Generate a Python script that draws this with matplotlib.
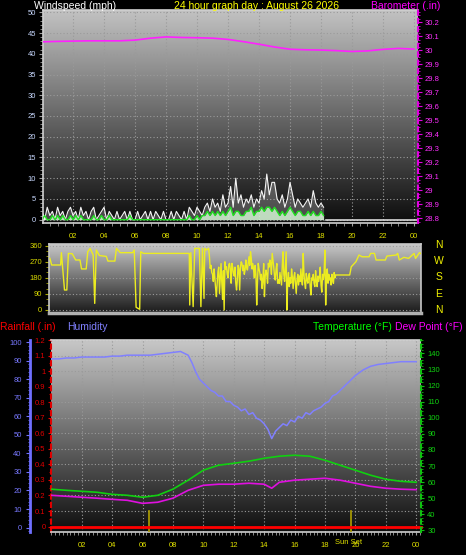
import numpy as np
import matplotlib
matplotlib.use("Agg")
import matplotlib.pyplot as plt
from matplotlib.colors import LinearSegmentedColormap
from matplotlib.ticker import MultipleLocator, FuncFormatter

# ---------------- data ----------------
title = "24 hour graph day : August 26 2026"
xtick_hours = [2, 4, 6, 8, 10, 12, 14, 16, 18, 20, 22, 24]
xtick_labels = ["02", "04", "06", "08", "10", "12", "14", "16", "18", "20", "22", "00"]

baro_hours = list(range(25))
baro_in = [30.059, 30.062, 30.064, 30.066, 30.066, 30.066, 30.071, 30.085, 30.094,
           30.090, 30.088, 30.085, 30.076, 30.060, 30.042, 30.022, 30.006, 30.002,
           30.000, 29.996, 29.990, 29.994, 30.005, 30.012, 30.007]

# wind readings every 10 minutes from 00:00 to 18:20
gust_mph = [2, 0, 3, 1, 2, 0,  3, 1, 2, 0, 2, 3,  1, 2, 0, 3, 1, 2,  0, 2, 3, 0, 1, 2,
            3, 0, 2, 1, 0, 2,  0, 1, 2, 0, 2, 0,  0, 2, 0, 1, 2, 0,  2, 0, 2, 1, 0, 2,
            0, 0, 2, 0, 2, 1,  0, 2, 0, 3, 2, 1,  3, 2, 1, 3, 4, 2,  5, 3, 4, 2, 6, 3,
            4, 8, 3, 10, 4, 6,  3, 5, 4, 6, 3, 5,  4, 7, 5, 11, 6, 9,  9, 5, 4, 6, 3, 5,
            9, 6, 3, 5, 4, 3,  4, 5, 3, 7, 4, 3,  4, 3]
avg_mph = [0, 1, 0, 0, 1, 0,  1, 0, 1, 0, 0, 1,  0, 1, 0, 1, 0, 0,  0, 0, 1, 0, 0, 1,
           0, 0, 1, 0, 0, 0,  0, 0, 0, 0, 1, 0,  0, 0, 0, 0, 0, 0,  0, 0, 0, 0, 0, 0,
           0, 0, 0, 0, 0, 0,  0, 0, 0, 1, 0, 0,  1, 0, 1, 1, 2, 1,  2, 1, 2, 1, 2, 1,
           2, 3, 1, 2, 2, 1,  1, 2, 2, 3, 1, 2,  2, 3, 2, 3, 3, 2,  3, 2, 1, 2, 1, 2,
           3, 2, 1, 2, 2, 1,  1, 2, 1, 2, 1, 1,  2, 1]
wind_hours = [i / 6 for i in range(len(gust_mph))]
calm_hours = [18.33, 24.26]
calm_mph = [0, 0]

# wind direction: sparse readings early, every 3 minutes 10:18-18:30, sparse late
dir_early_hours = [0.06, 0.17, 0.75, 0.8, 1.0, 1.15, 1.25, 1.5, 1.72, 2.0, 2.1, 2.4, 2.5,
                   2.65, 2.85, 2.95, 3.05, 3.25, 3.7, 3.8, 4.25, 4.35, 4.6, 5.4, 5.5, 5.62,
                   5.85, 5.92, 6.1, 9.05, 9.08, 9.15, 9.3, 9.4, 9.7, 9.8, 9.9, 10.0, 10.05,
                   10.15]
dir_early_deg = [289, 252, 252, 321, 112, 112, 317, 315, 280, 280, 230, 230, 326, 345, 308,
                 37, 336, 305, 300, 274, 274, 345, 321, 321, 336, 15, 4, 326, 317, 317, 28,
                 321, 19, 345, 345, 19, 345, 65, 345, 336]
dir_dense_deg = [345, 300, 233, 250, 210, 200, 160, 230, 180, 120,
                 75, 150, 214, 240, 93, 180, 260, 150, 60, 220,
                 0, 270, 230, 242, 200, 180, 255, 261, 230, 150,
                 261, 240, 205, 190, 240, 150, 112, 170, 250, 230,
                 112, 242, 270, 261, 220, 250, 200, 224, 280, 240,
                 224, 260, 298, 250, 326, 290, 230, 260, 224, 180,
                 250, 200, 28, 160, 261, 230, 210, 168, 200, 120,
                 168, 260, 75, 190, 224, 200, 150, 261, 240, 280,
                 261, 200, 317, 280, 240, 190, 168, 230, 260, 150,
                 168, 149, 210, 177, 140, 250, 326, 200, 160, 240,
                 326, 0, 168, 210, 131, 180, 150, 230, 186, 120,
                 186, 210, 150, 93, 168, 200, 140, 190, 160, 230,
                 168, 140, 317, 200, 149, 120, 205, 170, 150, 190,
                 205, 130, 84, 180, 168, 200, 150, 131, 220, 160,
                 131, 190, 160, 186, 240, 140, 100, 200, 170, 210,
                 336, 28, 186, 230, 150, 200, 168, 180, 140, 200,
                 168, 149, 210, 180, 196]
dir_dense_hours = [10.3 + 0.05 * i for i in range(len(dir_dense_deg))]
dir_late_hours = [19.4, 19.5, 19.8, 20.0, 20.2, 20.65, 20.75, 21.0, 21.1, 21.7, 21.8, 22.4,
                  22.5, 22.6, 22.9, 23.2, 23.55, 23.65, 23.9, 24.0]
dir_late_deg = [196, 242, 270, 308, 298, 298, 317, 317, 280, 280, 302, 308, 317, 280, 295,
                289, 317, 289, 321, 315]
compass = ["N", "W", "S", "E", "N"]

hum_hours = ([0.5 * i for i in range(18)] + [9 + 0.25 * i for i in range(41)]
             + [19.5 + 0.5 * i for i in range(10)])
humidity = [91, 91, 91.5, 91.5, 92, 92, 92, 92, 92.5, 92.5, 93, 93, 93, 93, 93.5, 94, 94.5, 95,
            93, 89, 84, 80, 78, 76, 74, 73, 71, 71, 68, 68, 66, 65, 63, 64, 61, 62, 59, 58,
            56, 53, 48, 52, 54, 56, 55, 58, 57, 60, 59, 62, 61, 63, 64, 65, 67, 68, 71, 72, 74,
            78, 82, 85, 87, 88, 88.5, 89, 89.5, 89.5, 89.5]

temp_hours = list(range(25))
temperature = [55.6, 54.9, 54.3, 53.7, 52.4, 51.8, 50.6, 51.8, 55.6, 61.2, 67.4, 70.5, 71.7,
               73.0, 74.8, 76.1, 76.7, 76.1, 73.6, 70.5, 67.4, 64.3, 61.8, 60.5, 59.9]
dew_hours = [0, 1, 2, 3, 4, 5, 6, 7, 8, 9, 10, 11, 12, 13, 14, 14.5, 15, 16, 17, 18, 19, 20,
             21, 22, 23, 24]
dewpoint = [51.8, 51.2, 50.6, 50.0, 49.3, 48.7, 46.8, 47.5, 50.0, 54.9, 58.0, 58.7, 58.7,
            59.3, 58.7, 56.2, 59.9, 61.2, 61.8, 62.4, 61.2, 59.3, 57.4, 56.2, 55.6, 55.3]
rain_hours = [0, 24.32]
rainfall = [0, 0]
sunrise_h = 6.41
sunset_h = 19.72

# ---------------- figure ----------------
W, H = 466, 555
fig = plt.figure(figsize=(W / 100, H / 100), dpi=100, facecolor="black")
plt.rcParams["font.family"] = ["Liberation Sans", "DejaVu Sans"]


def rect(l, t, r, b):
    return [l / W, 1 - b / H, (r - l) / W, (b - t) / H]


def background(r, top, bottom):
    bg = fig.add_axes(r)
    g = np.linspace(0, 1, 256).reshape(-1, 1)
    cm = LinearSegmentedColormap.from_list("g", [top, bottom])
    bg.imshow(g, aspect="auto", cmap=cm, extent=[0, 1, 0, 1], origin="upper")
    bg.set_axis_off()
    return bg


def overlay(r):
    a = fig.add_axes(r)
    a.set_facecolor("none")
    return a


grid_kw = dict(color="#9a9a9a", linestyle=(0, (1, 2)), linewidth=0.8)
tick_fs = 5.5

# ---- top panel: wind speed + barometer ----
r1 = rect(43, 10, 418, 223)
background(r1, "#c2c2c2", "#0c0c0c")
ax1 = overlay(r1)
ax1.set_xlim(0.06, 24.26)
ax1.set_ylim(-0.8, 50.55)
ax1.fill_between(wind_hours, 0, gust_mph, color="#b8b8b8", alpha=0.35, lw=0, zorder=2)
ax1.fill_between(wind_hours, 0, avg_mph, color="#d4f4d4", alpha=0.85, lw=0, zorder=2)
ax1.plot(wind_hours, gust_mph, color="#f4f4f4", lw=0.8, zorder=3)
ax1.plot(wind_hours, avg_mph, color="#20e020", lw=1.0, zorder=4)
ax1.plot(calm_hours, calm_mph, color="#d8d8d8", lw=1.2, zorder=3)
ax1.yaxis.set_major_locator(MultipleLocator(5))
ax1.yaxis.set_minor_locator(MultipleLocator(1))
ax1.set_xticks(xtick_hours)
ax1.set_xticklabels(xtick_labels)
ax1.xaxis.set_minor_locator(MultipleLocator(0.5))
ax1.grid(True, **grid_kw)
ax1.tick_params(axis="y", which="both", colors="#a0a0a0", labelcolor="#c8d8ff",
                labelsize=tick_fs, length=3, pad=2)
ax1.tick_params(axis="y", which="minor", length=2)
ax1.tick_params(axis="x", which="both", colors="#a0a0a0", labelcolor="#e0e000",
                labelsize=tick_fs, length=2, pad=5)
for s in ax1.spines.values():
    s.set_color("#d0d0d0")
    s.set_linewidth(1.2)
ax1.spines["right"].set_visible(False)

ax1b = overlay(r1)
ax1b.set_xlim(ax1.get_xlim())
ax1b.set_ylim(28.766, 30.286)
ax1b.plot(baro_hours, baro_in, color="#ff20ff", lw=1.2, zorder=5)
ax1b.yaxis.tick_right()
ax1b.set_xticks([])
ax1b.yaxis.set_major_locator(MultipleLocator(0.1))
ax1b.yaxis.set_minor_locator(MultipleLocator(0.025))
ax1b.yaxis.set_major_formatter(FuncFormatter(lambda v, p: f"{v:.1f}".rstrip("0").rstrip(".")))
ax1b.tick_params(axis="y", which="both", colors="#e000e0", labelcolor="#ff30ff",
                 labelsize=tick_fs, length=3, pad=1.5)
ax1b.tick_params(axis="y", which="minor", length=1.5)
for k in ["left", "top", "bottom"]:
    ax1b.spines[k].set_visible(False)
ax1b.spines["right"].set_color("#e000e0")
ax1b.spines["right"].set_linestyle((0, (2, 2)))
ax1b.spines["right"].set_linewidth(1.5)

# ---- middle panel: wind direction ----
r2 = rect(49, 244, 421, 313)
background(r2, "#c8c8c8", "#1a1a1a")
ax2 = overlay(r2)
ax2.set_xlim(0, 24)
ax2.set_ylim(-16.8, 369.5)
ax2.plot(dir_early_hours + dir_dense_hours + dir_late_hours,
         dir_early_deg + dir_dense_deg + dir_late_deg, color="#ecec20", lw=1.0, zorder=4)
ax2.set_yticks([0, 90, 180, 270, 360])
ax2.yaxis.set_minor_locator(MultipleLocator(30))
ax2.set_xticks([])
ax2.grid(True, axis="y", **grid_kw)
ax2.tick_params(axis="y", which="both", colors="#a8a800", labelcolor="#d8d800",
                labelsize=tick_fs, length=3, pad=2)
ax2.tick_params(axis="y", which="minor", length=2)
for s in ax2.spines.values():
    s.set_color("#c8c8c8")
    s.set_linewidth(1.2)
ax2.spines["bottom"].set_linewidth(2.5)
ax2.spines["bottom"].set_color("#b0b0b0")
for i, c in enumerate(compass):
    fig.text(439 / W, 1 - (245 + i * 16.2) / H, c, color="#f0f000", fontsize=7.5,
             ha="center", va="center")

# ---- bottom panel: rain, humidity, temperature, dew point ----
r3 = rect(51, 340, 421, 532)
background(r3, "#c8c8c8", "#0e0e0e")
ax3 = overlay(r3)
ax3.set_xlim(-0.02, 24.32)
ax3.set_ylim(-0.035, 1.2005)
ax3.yaxis.set_major_locator(MultipleLocator(0.1))
ax3.yaxis.set_minor_locator(MultipleLocator(0.05))
ax3.yaxis.set_major_formatter(FuncFormatter(lambda v, p: f"{v:.1f}".rstrip("0").rstrip(".")))
ax3.set_xticks(xtick_hours)
ax3.set_xticklabels(xtick_labels)
ax3.xaxis.set_minor_locator(MultipleLocator(0.25))
ax3.grid(True, **grid_kw)
ax3.tick_params(axis="y", which="both", colors="#e00000", labelcolor="#e00000",
                labelsize=tick_fs, length=2.5, pad=1.5)
ax3.tick_params(axis="y", which="minor", length=1.5)
ax3.tick_params(axis="x", which="both", colors="#a0a0a0", labelcolor="#e0e000",
                labelsize=tick_fs, length=2, pad=5)
for s in ax3.spines.values():
    s.set_color("#d0d0d0")
    s.set_linewidth(1.2)
ax3.spines["right"].set_visible(False)
ax3.spines["left"].set_color("#e00000")
ax3.spines["left"].set_linestyle((0, (2, 2)))
ax3.spines["left"].set_linewidth(1.5)
ax3.plot(rain_hours, rainfall, color="#ff0000", lw=2, zorder=6, clip_on=False)
for hh in (sunrise_h, sunset_h):
    ax3.axvline(hh, ymin=0, ymax=0.11, color="#b0a000", lw=1.2, zorder=3)
fig.text(349 / W, 1 - 542 / H, "Sun Set", color="#e0e000", fontsize=tick_fs,
         ha="center", va="center")

axH = overlay(r3)
axH.set_xlim(ax3.get_xlim())
axH.set_ylim(-2.4, 101.2)
axH.plot(hum_hours, humidity, color="#8080ff", lw=1.1, zorder=5)
axH.set_xticks([])
axH.yaxis.set_major_locator(MultipleLocator(10))
axH.yaxis.set_minor_locator(MultipleLocator(2))
for k in ["right", "top", "bottom"]:
    axH.spines[k].set_visible(False)
axH.spines["left"].set_position(("outward", 15.1))
axH.spines["left"].set_color("#7070ff")
axH.spines["left"].set_linewidth(2)
axH.tick_params(axis="y", which="both", colors="#7070ff", labelcolor="#7878ff",
                labelsize=tick_fs, length=3, pad=3)
axH.tick_params(axis="y", which="minor", length=1.5)

axT = overlay(r3)
axT.set_xlim(ax3.get_xlim())
axT.set_ylim(29, 148.3)
axT.plot(temp_hours, temperature, color="#10d010", lw=1.2, zorder=5)
axT.plot(dew_hours, dewpoint, color="#e010e0", lw=1.2, zorder=5)
axT.yaxis.tick_right()
axT.set_xticks([])
axT.yaxis.set_major_locator(MultipleLocator(10))
axT.yaxis.set_minor_locator(MultipleLocator(2))
for k in ["left", "top", "bottom"]:
    axT.spines[k].set_visible(False)
axT.spines["right"].set_color("#10c010")
axT.spines["right"].set_linestyle((0, (2, 2)))
axT.spines["right"].set_linewidth(1.5)
axT.tick_params(axis="y", which="both", colors="#10c010", labelcolor="#10d010",
                labelsize=tick_fs, length=2.5, pad=2)
axT.tick_params(axis="y", which="minor", length=1.5)

# ---- header texts ----
fs = 7.5
fig.text(34 / W, 1 - 9 / H, "Windspeed (mph)", color="white", fontsize=fs, va="baseline")
fig.text(257 / W, 1 - 9 / H, title, color="#ffff00", fontsize=fs, ha="center", va="baseline")
fig.text(440 / W, 1 - 9 / H, "Barometer (.in)", color="#ff00ff", fontsize=fs, ha="right",
         va="baseline")
fig.text(0 / W, 1 - 330 / H, "Rainfall (.in)", color="#ff0000", fontsize=fs, va="baseline")
fig.text(67 / W, 1 - 330 / H, "Humidity", color="#8080ff", fontsize=fs, va="baseline")
fig.text(313 / W, 1 - 330 / H, "Temperature (°F)", color="#00ff00", fontsize=fs, va="baseline")
fig.text(395 / W, 1 - 330 / H, "Dew Point (°F)", color="#ff00ff", fontsize=fs, va="baseline")

fig.savefig("out.png", dpi=100, facecolor="black")
